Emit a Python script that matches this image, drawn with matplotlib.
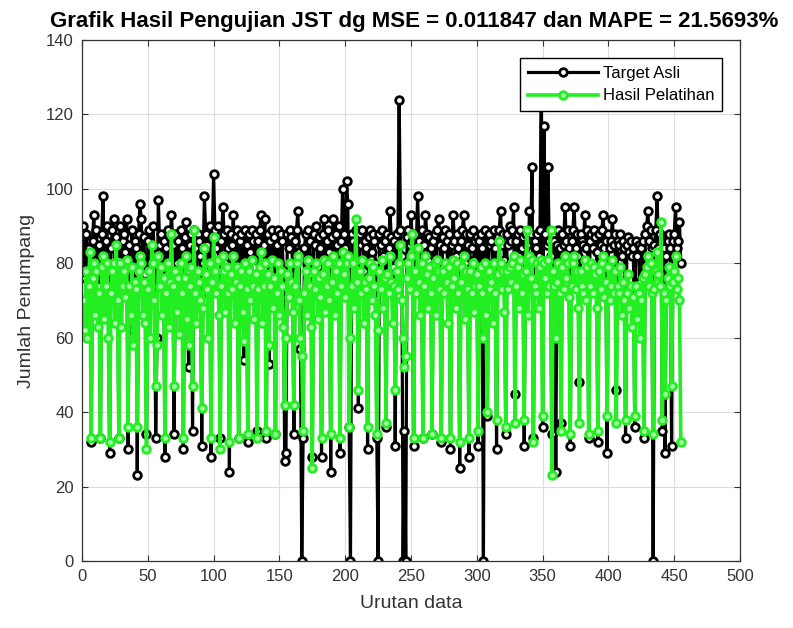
import numpy as np
import matplotlib.pyplot as plt

plt.rcParams['font.family'] = ['Liberation Sans', 'DejaVu Sans']

# Target (actual) values, one row per week of 7 samples
target_asli = [
    90, 76, 88, 68, 84, 86, 32,
    86, 93, 80, 89, 74, 85, 33,
    88, 98, 79, 86, 90, 72, 29,
    84, 89, 92, 78, 87, 81, 33,
    90, 75, 86, 88, 83, 92, 30,
    85, 79, 89, 62, 86, 84, 23,
    88, 96, 92, 80, 87, 77, 34,
    86, 89, 73, 84, 90, 82, 33,
    60, 97, 85, 88, 79, 86, 28,
    84, 89, 76, 87, 93, 85, 34,
    88, 80, 86, 74, 89, 84, 30,
    87, 91, 78, 52, 85, 88, 35,
    89, 84, 77, 88, 86, 82, 31,
    80, 98, 88, 85, 72, 90, 28,
    87, 104, 89, 84, 90, 78, 33,
    86, 95, 88, 80, 89, 84, 24,
    88, 85, 93, 78, 87, 89, 33,
    86, 88, 80, 54, 89, 85, 32,
    88, 83, 89, 86, 79, 88, 35,
    86, 89, 93, 77, 85, 92, 33,
    88, 53, 86, 89, 81, 87, 34,
    85, 89, 80, 88, 86, 78, 27,
    29, 88, 84, 89, 87, 80, 34,
    86, 89, 94, 83, 57, 0, 33,
    84, 88, 80, 89, 86, 77, 28,
    88, 85, 90, 79, 87, 84, 28,
    88, 92, 81, 86, 89, 83, 24,
    87, 92, 80, 88, 85, 90, 29,
    86, 100, 88, 84, 102, 96, 36,
    0, 88, 86, 80, 89, 85, 41,
    88, 85, 89, 78, 86, 84, 30,
    87, 89, 83, 88, 86, 80, 33,
    0, 88, 85, 89, 82, 86, 36,
    88, 84, 94, 87, 79, 86, 31,
    88, 85, 124, 89, 82, 0, 35,
    0, 87, 89, 85, 93, 86, 31,
    88, 84, 98, 86, 80, 89, 33,
    85, 93, 88, 81, 87, 84, 34,
    86, 88, 80, 89, 92, 85, 32,
    87, 84, 89, 86, 79, 88, 30,
    85, 93, 86, 82, 88, 84, 25,
    86, 89, 93, 80, 88, 85, 28,
    88, 84, 89, 81, 86, 87, 31,
    86, 88, 84, 0, 89, 80, 39,
    88, 85, 86, 80, 89, 84, 30,
    87, 89, 94, 85, 88, 81, 34,
    88, 85, 90, 86, 89, 95, 45,
    86, 88, 82, 89, 84, 87, 31,
    88, 85, 80, 94, 88, 106, 33,
    86, 84, 88, 82, 89, 126, 36,
    117, 88, 85, 106, 86, 82, 34,
    88, 86, 24, 85, 89, 84, 37,
    88, 85, 95, 86, 89, 84, 31,
    86, 89, 95, 84, 88, 82, 48,
    88, 86, 85, 93, 84, 89, 33,
    86, 88, 84, 89, 87, 83, 32,
    88, 85, 89, 93, 84, 86, 29,
    88, 84, 86, 92, 85, 88, 46,
    86, 85, 88, 82, 86, 84, 33,
    85, 87, 83, 86, 82, 84, 36,
    86, 82, 85, 75, 84, 86, 33,
    88, 90, 94, 86, 89, 84, 0,
    85, 89, 98, 84, 88, 86, 35,
    84, 29, 82, 86, 88, 84, 31,
    86, 88, 95, 84, 86, 91, 80,
]

# Network output (training result)
hasil_pelatihan = [
    70, 62, 78, 60, 74, 83, 33,
    76, 80, 66, 78, 63, 72, 33,
    79, 82, 65, 74, 80, 60, 32,
    72, 78, 80, 64, 85, 70, 33,
    80, 63, 74, 78, 71, 81, 36,
    74, 66, 79, 58, 75, 73, 36,
    78, 82, 80, 66, 75, 64, 30,
    73, 78, 60, 85, 80, 70, 47,
    58, 82, 74, 79, 66, 76, 33,
    72, 80, 63, 75, 88, 74, 47,
    78, 67, 76, 61, 80, 72, 33,
    76, 82, 65, 58, 74, 79, 47,
    89, 72, 64, 78, 75, 70, 41,
    68, 84, 77, 73, 60, 80, 33,
    75, 87, 78, 72, 81, 66, 30,
    74, 82, 78, 67, 79, 72, 32,
    77, 73, 82, 64, 75, 79, 33,
    74, 78, 67, 59, 80, 73, 34,
    78, 70, 81, 74, 65, 77, 33,
    73, 79, 83, 64, 74, 80, 35,
    77, 58, 74, 81, 68, 76, 34,
    72, 80, 66, 78, 74, 63, 42,
    60, 77, 71, 80, 75, 67, 42,
    74, 80, 82, 70, 60, 55, 35,
    72, 78, 66, 81, 74, 63, 25,
    78, 73, 80, 65, 76, 71, 33,
    77, 81, 67, 74, 80, 70, 34,
    75, 82, 66, 78, 72, 80, 33,
    74, 83, 77, 71, 80, 82, 36,
    60, 74, 80, 68, 92, 75, 46,
    78, 72, 81, 64, 75, 73, 36,
    76, 80, 70, 79, 74, 66, 34,
    62, 78, 73, 81, 68, 76, 37,
    77, 72, 82, 75, 64, 74, 46,
    78, 73, 80, 85, 70, 60, 52,
    55, 76, 80, 73, 82, 88, 33,
    78, 72, 84, 75, 66, 80, 33,
    74, 82, 77, 68, 79, 72, 34,
    76, 80, 66, 81, 78, 73, 33,
    78, 72, 80, 75, 64, 79, 33,
    74, 81, 76, 68, 80, 72, 32,
    75, 79, 82, 65, 78, 73, 33,
    78, 72, 80, 67, 74, 77, 35,
    74, 79, 72, 60, 80, 66, 40,
    78, 73, 75, 64, 80, 72, 38,
    77, 86, 80, 73, 78, 67, 36,
    78, 73, 79, 75, 80, 82, 37,
    74, 79, 68, 81, 72, 77, 38,
    78, 89, 66, 82, 76, 81, 32,
    74, 72, 80, 68, 79, 81, 39,
    80, 76, 72, 81, 74, 89, 23,
    78, 74, 60, 75, 80, 72, 35,
    79, 73, 82, 76, 80, 71, 34,
    74, 80, 82, 73, 78, 68, 37,
    78, 74, 72, 81, 70, 79, 34,
    74, 80, 72, 79, 77, 68, 35,
    78, 73, 80, 82, 71, 75, 39,
    79, 70, 74, 81, 72, 78, 37,
    74, 72, 79, 66, 75, 70, 38,
    72, 77, 68, 74, 63, 71, 39,
    74, 65, 72, 60, 70, 76, 35,
    77, 79, 82, 74, 80, 72, 34,
    73, 78, 83, 77, 74, 91, 38,
    72, 45, 70, 76, 79, 74, 47,
    75, 78, 82, 73, 76, 70, 32,
]

urutan = np.arange(1, len(target_asli) + 1)

fig = plt.figure(figsize=(7.93, 6.28), dpi=100)
ax = fig.add_axes([0.1034, 0.1067, 0.8298, 0.8296])

ax.plot(urutan, target_asli, '-o', color='black', linewidth=2.3,
        markersize=5.5, markeredgewidth=2, markerfacecolor='white',
        label='Target Asli')
ax.plot(urutan, hasil_pelatihan, '-o', color='#22ee22', linewidth=2.6,
        markersize=5.5, markeredgewidth=2, markerfacecolor='#aaffaa',
        label='Hasil Pelatihan')

ax.set_xlim(0, 500)
ax.set_ylim(0, 140)
ax.set_xticks(np.arange(0, 501, 50))
ax.set_yticks(np.arange(0, 141, 20))
ax.tick_params(direction='in', length=4, labelsize=12, colors='#333333',
               top=True, right=True, labeltop=False, labelright=False, pad=6)
ax.grid(True, color='#dddddd', linewidth=0.8)
ax.set_axisbelow(True)
for s in ax.spines.values():
    s.set_color('#333333')
    s.set_linewidth(0.9)

ax.set_xlabel('Urutan data', fontsize=14, color='#333333', labelpad=8)
ax.set_ylabel('Jumlah Penumpang', fontsize=14, color='#333333', labelpad=8)

# title placed by hand so it clears the top tick label
fig.text(0.522, 1 - 27 / 628,
         'Grafik Hasil Pengujian JST dg MSE = 0.011847 dan MAPE = 21.5693%',
         fontsize=16, fontweight='bold', ha='center', va='baseline')

leg = ax.legend(loc='upper right', fontsize=12, handlelength=4.2,
                fancybox=False, framealpha=1, edgecolor='black',
                borderaxespad=1.1, borderpad=0.45, labelspacing=0.45,
                handletextpad=0.3)
leg.get_frame().set_linewidth(1.0)

fig.savefig('out.png', dpi=100)
